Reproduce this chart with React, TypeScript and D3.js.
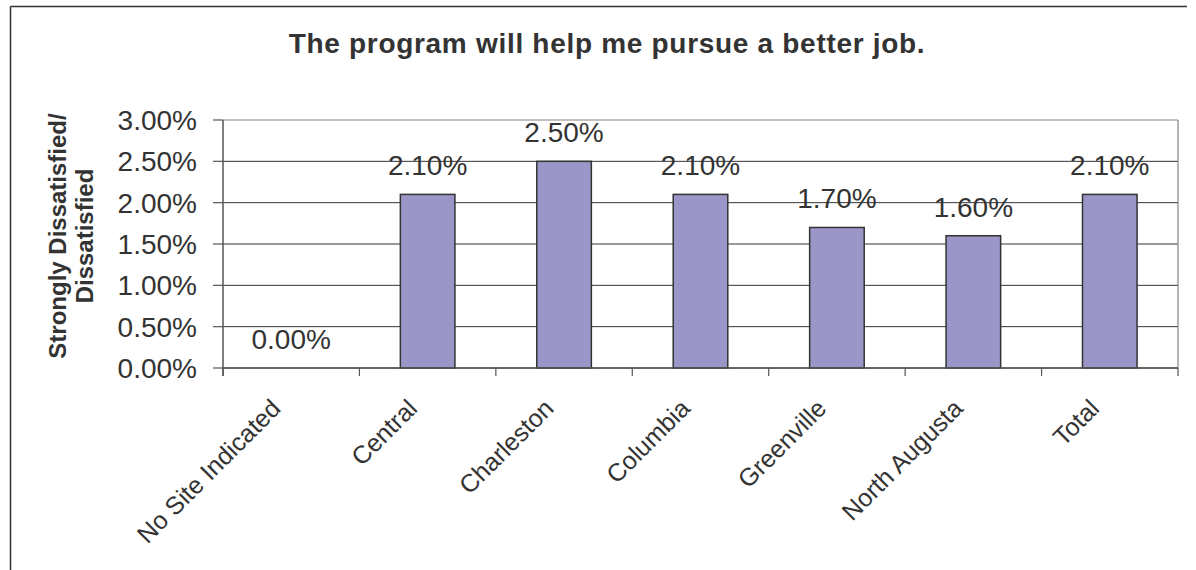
import React from "react";
import * as d3 from "d3";

const title = "The program will help me pursue a better job.";
const yTitleLines = ["Strongly Dissatisfied/", "Dissatisfied"];
const categories = ["No Site Indicated", "Central", "Charleston", "Columbia", "Greenville", "North Augusta", "Total"];
const values = [0.0, 0.021, 0.025, 0.021, 0.017, 0.016, 0.021];
const yTicks = [0, 0.005, 0.01, 0.015, 0.02, 0.025, 0.03];

const W = 1196;
const H = 570;
const plot = { left: 223, right: 1178, top: 120, bottom: 368 };
const FONT = "'Liberation Sans', Arial, Helvetica, sans-serif";
const TEXT = "#333333";

export default function App() {
  const x = d3.scaleBand<string>().domain(categories).range([plot.left, plot.right]).paddingInner(0).paddingOuter(0);
  const y = d3.scaleLinear().domain([0, 0.03]).range([plot.bottom, plot.top]);
  const bw = x.bandwidth() / 2.5;
  const fmt = d3.format(".2%");
  const boundaries = categories.map((c) => x(c) as number).concat([plot.right]);

  return (
    <svg width={W} height={H} style={{ position: "absolute", left: 0, top: 0, background: "#fff" }} fontFamily={FONT}>
      <rect x={0} y={0} width={W} height={H} fill="#fff" />
      {/* outer chart border */}
      <line x1={10.5} y1={6.5} x2={1187} y2={6.5} stroke="#333" strokeWidth={1.5} />
      <line x1={10.5} y1={6.5} x2={10.5} y2={H} stroke="#333" strokeWidth={1.5} />

      <text x={607} y={53} textAnchor="middle" fontWeight="bold" fontSize={28} letterSpacing={0.7} fill={TEXT}>
        {title}
      </text>

      {/* gridlines */}
      {yTicks.map((t) => (
        <line key={"g" + t} x1={plot.left} x2={plot.right} y1={y(t)} y2={y(t)}
          stroke={t === 0.03 ? "#8a8282" : "#333"} strokeWidth={1} />
      ))}
      {/* right plot border */}
      <line x1={plot.right} x2={plot.right} y1={plot.top} y2={plot.bottom} stroke="#8a8282" strokeWidth={1.2} />

      {/* bars */}
      {categories.map((c, i) => {
        const cx = (x(c) as number) + x.bandwidth() / 2;
        const v = values[i];
        return (
          <g key={c}>
            {v > 0 && (
              <rect x={cx - bw / 2} y={y(v)} width={bw} height={plot.bottom - y(v)}
                fill="#9b96c8" stroke="#333" strokeWidth={1.5} />
            )}
            <text x={cx} y={y(v) - 19} textAnchor="middle" fontSize={28} fill={TEXT}>
              {fmt(v)}
            </text>
            <text transform={`translate(${cx - 9},${plot.bottom + 42}) rotate(-45)`} textAnchor="end"
              fontSize={25} fill={TEXT}>
              {c}
            </text>
          </g>
        );
      })}

      {/* axes */}
      <line x1={plot.left} x2={plot.right} y1={plot.bottom} y2={plot.bottom} stroke="#555" strokeWidth={1.5} />
      <line x1={plot.left} x2={plot.left} y1={plot.top} y2={plot.bottom + 8} stroke="#555" strokeWidth={1.5} />
      {boundaries.map((b, i) => (
        <line key={"xt" + i} x1={b} x2={b} y1={plot.bottom} y2={plot.bottom + 8} stroke="#555" strokeWidth={1.2} />
      ))}
      {yTicks.map((t) => (
        <g key={"yt" + t}>
          <line x1={plot.left - 10} x2={plot.left} y1={y(t)} y2={y(t)} stroke="#555" strokeWidth={1.2} />
          <text x={197} y={y(t)} dy="0.36em" textAnchor="end" fontSize={28} fill={TEXT}>
            {fmt(t)}
          </text>
        </g>
      ))}

      {/* y axis title */}
      <text transform={`translate(71,236) rotate(-90)`} textAnchor="middle" fontWeight="bold" fontSize={24} fill={TEXT}>
        {yTitleLines.map((l, i) => (
          <tspan key={i} x={0} dy={i === 0 ? "-0.2em" : "1.1em"}>{l}</tspan>
        ))}
      </text>
    </svg>
  );
}
